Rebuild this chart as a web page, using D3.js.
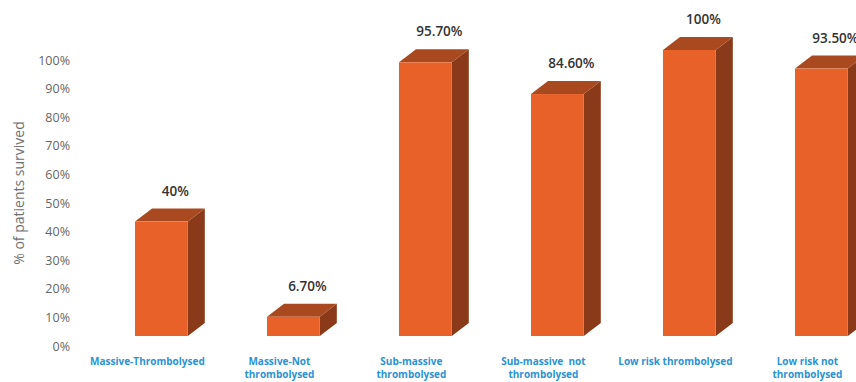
<!DOCTYPE html>
<html><head><meta charset="utf-8">
<script src="https://cdn.jsdelivr.net/npm/d3@7"></script>
<style>body{margin:0;background:#fff;overflow:hidden}</style>
</head><body><svg id="c" width="856" height="382"></svg>
<script>
const categories = ["Massive-Thrombolysed","Massive-Not thrombolysed","Sub-massive thrombolysed","Sub-massive not thrombolysed","Low risk thrombolysed","Low risk not thrombolysed"];
const categoryLines = [["Massive-Thrombolysed"],["Massive-Not","thrombolysed"],["Sub-massive","thrombolysed"],["Sub-massive  not","thrombolysed"],["Low risk thrombolysed"],["Low risk not","thrombolysed"]];
const values = [40, 6.7, 95.7, 84.6, 100, 93.5];
const valueLabels = ["40%","6.70%","95.70%","84.60%","100%","93.50%"];
const tickValues = [0,10,20,30,40,50,60,70,80,90,100];
const tickLabels = ["0%","10%","20%","30%","40%","50%","60%","70%","80%","90%","100%"];
const yTitle = "% of patients survived";

const svg = d3.select("#c");
const dx = 17, dy = 13;
const x = d3.scaleBand().domain(categories).range([95.4, 887.4]).paddingInner(0.6).paddingOuter(0.3);
const y = d3.scaleLinear().domain([0,100]).range([336, 50]);
const yAxisScale = d3.scaleLinear().domain([0,100]).range([346, 60]);

// y axis
const ax = svg.append("g").attr("transform","translate(70,0)")
  .call(d3.axisLeft(yAxisScale).tickValues(tickValues).tickFormat((d,i)=>tickLabels[i]).tickSize(0).tickPadding(0));
ax.select(".domain").remove();
ax.selectAll("text").attr("font-family","'Open Sans', sans-serif").attr("font-size",12.5).attr("fill","#666");

svg.append("text").attr("transform","translate(24,193) rotate(-90)")
  .attr("text-anchor","middle").attr("font-family","'Open Sans', sans-serif").attr("font-size",14)
  .attr("fill","#707070").text(yTitle);

const bw = x.bandwidth();
const g = svg.append("g");
categories.forEach((c,i)=>{
  const v = values[i];
  const x0 = x(c), yt = y(v), yb = y(0);
  // side
  g.append("polygon").attr("points",[[x0+bw,yt],[x0+bw+dx,yt-dy],[x0+bw+dx,yb-dy],[x0+bw,yb]].map(p=>p.join(",")).join(" "))
    .attr("fill","#8a3a18");
  // top
  g.append("polygon").attr("points",[[x0,yt],[x0+dx,yt-dy],[x0+bw+dx,yt-dy],[x0+bw,yt]].map(p=>p.join(",")).join(" "))
    .attr("fill","#a9491f");
  // front
  g.append("rect").attr("x",x0).attr("y",yt).attr("width",bw).attr("height",yb-yt).attr("fill","#e86128");
  // value label
  g.append("text").attr("x",x0+bw/2+14).attr("y",yt-26).attr("text-anchor","middle")
    .attr("font-family","'Open Sans', sans-serif").attr("font-size",13.5).attr("font-weight",600)
    .attr("fill","#333").text(valueLabels[i]);
  // category label
  const t = g.append("text").attr("text-anchor","middle").attr("font-family","'Open Sans', sans-serif")
    .attr("font-size",10).attr("font-weight",700).attr("fill","#2a93d5");
  categoryLines[i].forEach((l,j)=>{
    t.append("tspan").attr("x",x0+bw/2-14).attr("y",365+j*13).attr("xml:space","preserve").text(l);
  });
});
</script></body></html>
